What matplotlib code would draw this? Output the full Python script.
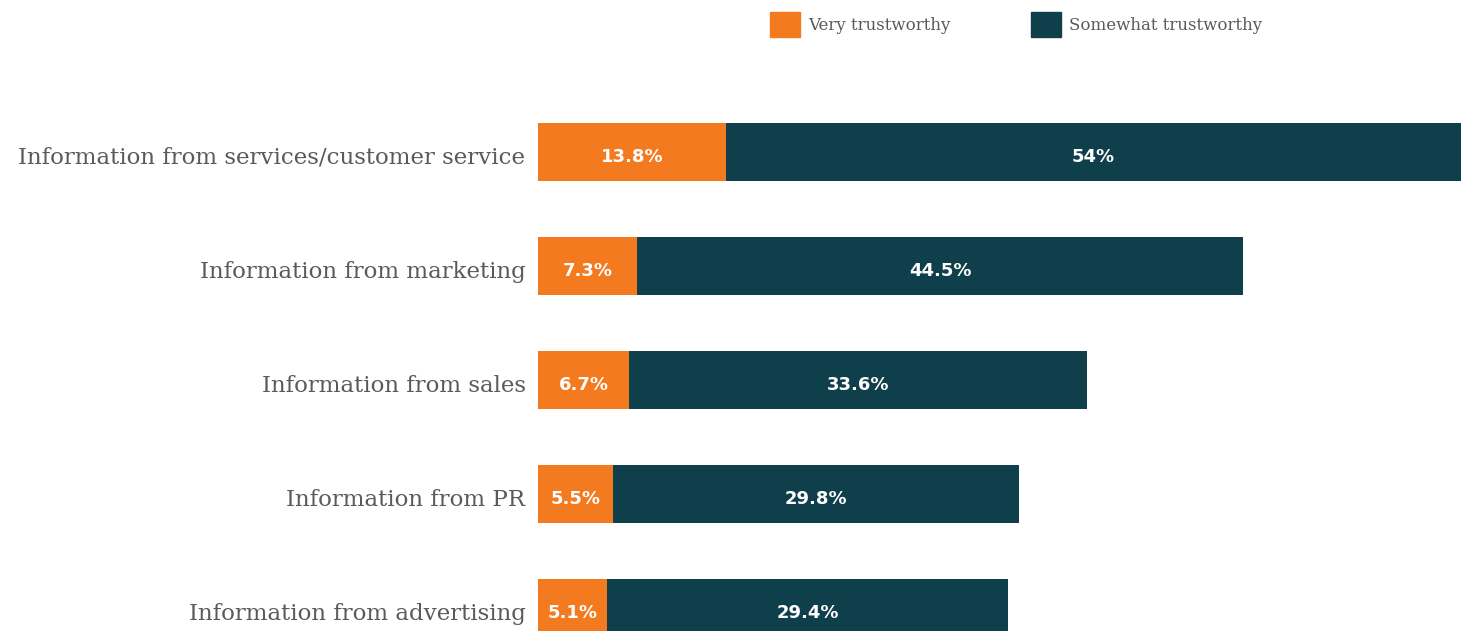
import matplotlib.pyplot as plt
from matplotlib.patches import Patch
from matplotlib.transforms import ScaledTranslation

categories = [
    "Information from services/customer service",
    "Information from marketing",
    "Information from sales",
    "Information from PR",
    "Information from advertising",
]
very = [13.8, 7.3, 6.7, 5.5, 5.1]
somewhat = [54, 44.5, 33.6, 29.8, 29.4]

orange = "#F47A20"
teal = "#0F3F4A"
grey = "#5a5a5a"

fig = plt.figure(figsize=(14.61, 6.31), dpi=100)
ax = fig.add_axes([538 / 1461, 0, 923 / 1461, 536 / 631])

y = list(range(len(categories)))
b1 = ax.barh(y, very, height=0.51, color=orange)
b2 = ax.barh(y, somewhat, left=very, height=0.51, color=teal)

for bars, vals in ((b1, very), (b2, somewhat)):
    for bar, v in zip(bars, vals):
        ax.text(bar.get_x() + bar.get_width() / 2, bar.get_y() + bar.get_height() / 2 + 0.04,
                f"{v:g}%", color="white", ha="center", va="center",
                fontsize=13, fontweight="semibold", family="DejaVu Sans")

ax.set_xlim(0, very[0] + somewhat[0])
ax.set_ylim(4.2, -0.5)
ax.set_yticks(y)
ax.set_yticklabels(categories, family="DejaVu Serif", fontsize=16.5, color=grey)
ax.tick_params(axis="y", length=0, pad=9)
# nudge the category labels down a little
shift = ScaledTranslation(0, -3 / 100, fig.dpi_scale_trans)
for lbl in ax.get_yticklabels():
    lbl.set_transform(lbl.get_transform() + shift)
ax.set_xticks([])
for s in ax.spines.values():
    s.set_visible(False)

handles = [Patch(color=orange), Patch(color=teal)]
fig.legend(handles, ["Very trustworthy", "Somewhat trustworthy"], ncol=2,
           loc="upper left", bbox_to_anchor=(770 / 1461, 1 - 12 / 631), frameon=False,
           borderpad=0, borderaxespad=0,
           handlelength=1.8, handleheight=1.9, handletextpad=0.48, columnspacing=4.85,
           prop={"family": "DejaVu Serif", "size": 12}, labelcolor=grey)

fig.savefig("out.png", dpi=100)
